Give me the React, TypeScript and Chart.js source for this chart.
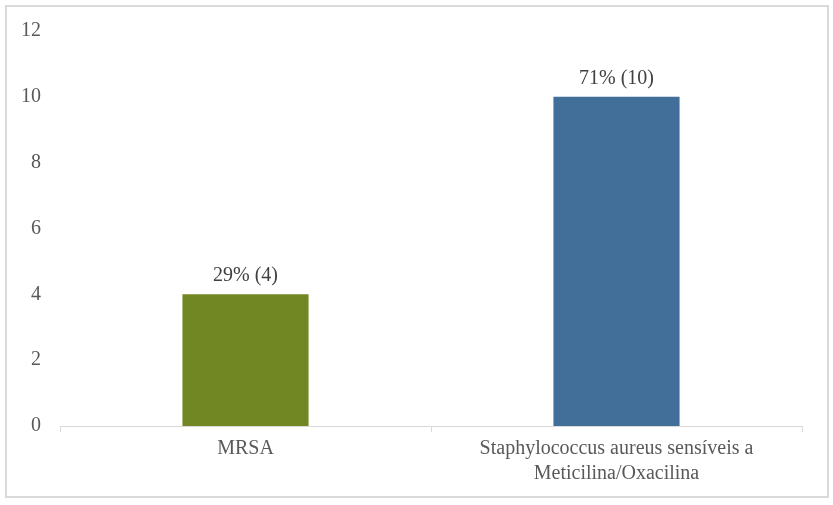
import { useEffect, useRef } from "react";
import { Chart, registerables } from "chart.js";

Chart.register(...registerables);

const categories: (string | string[])[] = [
  "MRSA",
  ["Staphylococcus aureus sensíveis a", "Meticilina/Oxacilina"],
];
const counts = [4, 10];
const percents = ["29%", "71%"];
const barColors = ["#718724", "#426e9a"];

const FONT = "'Liberation Serif', 'Times New Roman', serif";

const valueLabels = {
  id: "valueLabels",
  afterDatasetsDraw(chart: Chart) {
    const { ctx } = chart;
    const meta = chart.getDatasetMeta(0);
    ctx.save();
    ctx.font = `20px ${FONT}`;
    ctx.fillStyle = "#404040";
    ctx.textAlign = "center";
    ctx.textBaseline = "alphabetic";
    meta.data.forEach((bar: any, i: number) => {
      ctx.fillText(`${percents[i]} (${counts[i]})`, bar.x, bar.y - 13);
    });
    ctx.restore();
  },
};

export default function App() {
  const canvasRef = useRef<HTMLCanvasElement>(null);

  useEffect(() => {
    if (!canvasRef.current) return;

    const chart = new Chart(canvasRef.current, {
      type: "bar",
      data: {
        labels: categories,
        datasets: [
          {
            data: counts,
            backgroundColor: barColors,
            categoryPercentage: 1,
            barPercentage: 0.34,
          },
        ],
      },
      options: {
        animation: false,
        responsive: false,
        layout: { padding: { top: 31, right: 31, bottom: 0, left: 0 } },
        scales: {
          x: {
            grid: {
              display: true,
              drawOnChartArea: false,
              drawTicks: true,
              tickLength: 6,
              color: "#d9d9d9",
            },
            border: { display: true, color: "#d9d9d9", width: 1 },
            ticks: {
              color: "#595959",
              font: { family: FONT, size: 20, lineHeight: 1.25 },
              padding: 4,
              maxRotation: 0,
            },
            afterFit: (scale: any) => {
              scale.height = 79;
            },
          },
          y: {
            min: 0,
            max: 12,
            grid: { display: false, drawTicks: false },
            border: { display: false },
            ticks: {
              stepSize: 2,
              color: "#595959",
              font: { family: FONT, size: 20 },
              padding: 19,
            },
            afterFit: (scale: any) => {
              scale.width = 60;
            },
          },
        },
        plugins: {
          legend: { display: false },
          tooltip: { enabled: false },
        },
      },
      plugins: [valueLabels],
    });

    return () => {
      chart.destroy();
    };
  }, []);

  return (
    <div
      style={{
        position: "absolute",
        left: 0,
        top: 0,
        width: 833,
        height: 505,
        background: "#fff",
      }}
    >
      <canvas ref={canvasRef} width={833} height={505} />
      <div
        style={{
          position: "absolute",
          left: 5,
          top: 5,
          width: 824,
          height: 493,
          boxSizing: "border-box",
          border: "2px solid #d9d9d9",
          pointerEvents: "none",
        }}
      />
    </div>
  );
}
